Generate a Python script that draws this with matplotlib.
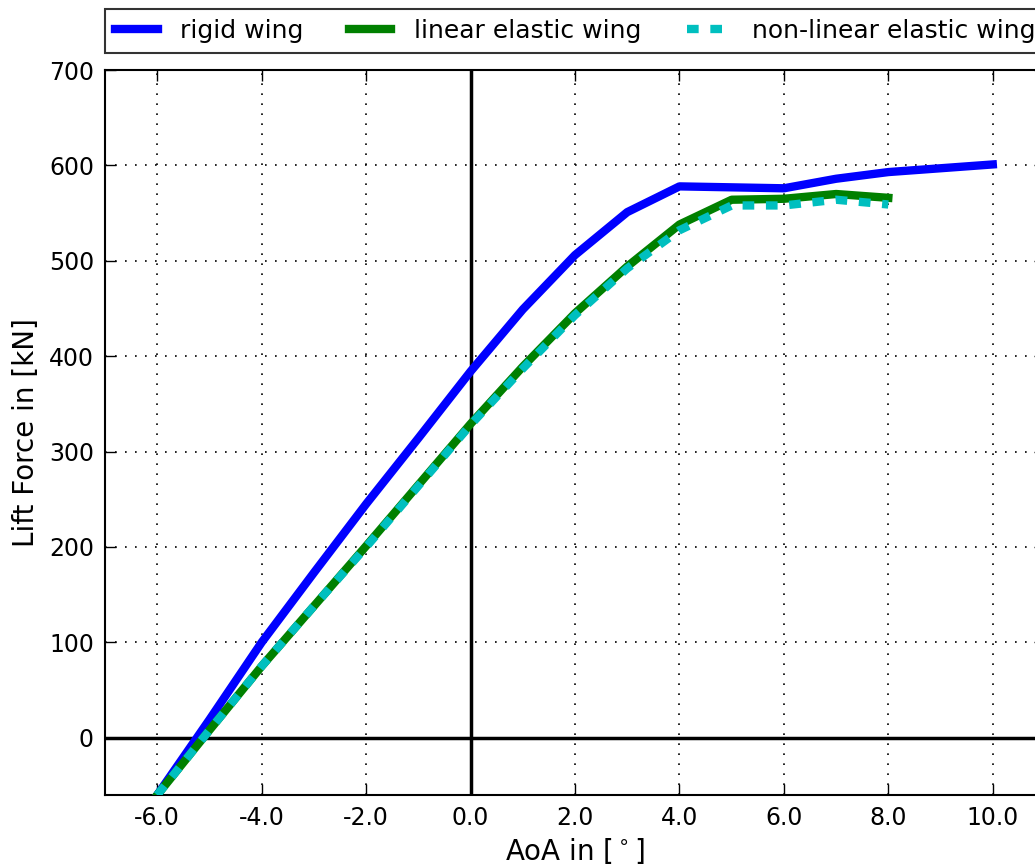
import matplotlib
matplotlib.use("Agg")
import matplotlib.pyplot as plt
from matplotlib.ticker import FormatStrFormatter

# Data
aoa_rigid = [-6, -5, -4, -3, -2, -1, 0, 1, 2, 3, 4, 5, 6, 7, 8, 9, 10]
lift_rigid = [-60, 19, 100, 173, 245, 314, 384, 449, 506, 551, 578, 577, 576, 586, 593, 597, 601]

aoa_lin = [-6, -5, -4, -3, -2, -1, 0, 1, 2, 3, 4, 5, 6, 7, 8]
lift_lin = [-60, 8, 75, 138, 201, 265, 329, 389, 445, 494, 538, 564, 565, 570, 566]

aoa_nl = [-6, -5, -4, -3, -2, -1, 0, 1, 2, 3, 4, 5, 6, 7, 8]
lift_nl = [-60, 8, 75, 138, 200, 264, 328, 387, 443, 492, 532, 558, 558, 564, 559]

xticks = [-6, -4, -2, 0, 2, 4, 6, 8, 10]
yticks = [0, 100, 200, 300, 400, 500, 600, 700]

fig = plt.figure(figsize=(10.35, 8.67), dpi=100)
ax = fig.add_axes([105/1035, 72/867, 940/1035, 725/867])

ax.plot(aoa_rigid, lift_rigid, color=(0, 0, 1), lw=6, label="rigid wing", zorder=3)
ax.plot(aoa_lin, lift_lin, color=(0, 0.5, 0), lw=6, label="linear elastic wing", zorder=4)
ax.plot(aoa_nl, lift_nl, color=(0, 0.75, 0.75), lw=6, ls=(0, (1.4, 1.4)),
        label="non-linear elastic wing", zorder=5)

ax.axhline(0, color="k", lw=2.5, zorder=2)
ax.axvline(0, color="k", lw=2.5, zorder=2)

ax.set_xlim(-7, 11)
ax.set_ylim(-60, 700)
ax.set_xticks(xticks)
ax.set_yticks(yticks)
ax.xaxis.set_major_formatter(FormatStrFormatter("%.1f"))
ax.grid(True, color="k", ls=(0, (1, 5)), lw=1.2)
ax.tick_params(direction="in", length=8, width=1, labelsize=17, pad=8,
               top=True, right=True)
for s in ax.spines.values():
    s.set_linewidth(1.5)

ax.set_xlabel(r"AoA in [$^\circ$]", fontsize=20, labelpad=4)
ax.set_ylabel("Lift Force in [kN]", fontsize=20, labelpad=6)

leg = ax.legend(loc="lower left", bbox_to_anchor=(0, 1.024, 1, 0.058), mode="expand",
                ncol=3, fontsize=18, frameon=True, fancybox=False, borderaxespad=0,
                handlelength=1.7, handletextpad=0.9, columnspacing=1.0)
leg.get_frame().set_edgecolor("k")
leg.get_frame().set_linewidth(1.5)

fig.savefig("out.png", dpi=100)
